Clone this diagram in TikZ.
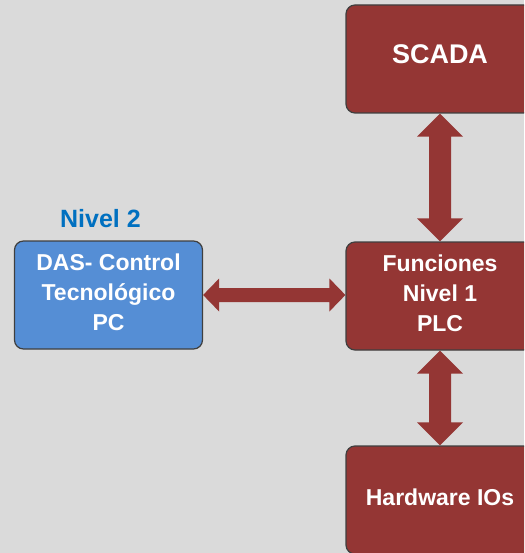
\documentclass[tikz,border=0pt]{standalone}
\usepackage{fontspec}
\setmainfont{Liberation Sans}
\usetikzlibrary{calc}
\definecolor{bg}{HTML}{DADADA}
\definecolor{boxred}{HTML}{943634}
\definecolor{boxblue}{HTML}{558ED5}
\definecolor{nivel}{HTML}{0070C0}
\definecolor{edge}{HTML}{3F3F3F}
\tikzset{
  box/.style={draw=edge, line width=1.2pt, rounded corners=9pt, minimum width=188pt,
    minimum height=108pt, inner sep=0pt, align=center, text=white,
    font=\bfseries\fontsize{23}{30}\selectfont},
  redbox/.style={box, fill=boxred},
  bluebox/.style={box, fill=boxblue},
  arr/.style={fill=boxred},
  lbl/.style={inner sep=0pt, text=nivel, font=\bfseries\fontsize{25}{30}\selectfont}
}
\newcommand\harr[2]{\fill[arr] (#1) -- ($(#1)+(16,-16.5)$) -- ($(#1)+(16,-7)$) -- ($(#2)+(-16,-7)$) -- ($(#2)+(-16,-16.5)$) -- (#2) -- ($(#2)+(-16,16.5)$) -- ($(#2)+(-16,7)$) -- ($(#1)+(16,7)$) -- ($(#1)+(16,16.5)$) -- cycle;}
\newcommand\varr[2]{\fill[arr] (#1) -- ($(#1)+(-23,23)$) -- ($(#1)+(-11,23)$) -- ($(#2)+(-11,-23)$) -- ($(#2)+(-23,-23)$) -- (#2) -- ($(#2)+(23,-23)$) -- ($(#2)+(11,-23)$) -- ($(#1)+(11,23)$) -- ($(#1)+(23,23)$) -- cycle;}
\begin{document}
\begin{tikzpicture}[x=1pt,y=-1pt]
\useasboundingbox (0,0) rectangle (524,553);
\clip (0,0) rectangle (524,553);
\fill[bg] (0,0) rectangle (524,553);
\node[redbox, font=\bfseries\fontsize{27}{30}\selectfont, text depth=10pt] (scada) at (440,59) {SCADA};
\node[redbox, text depth=6pt] (fun) at (440,296) {Funciones\\Nivel 1\\PLC};
\node[redbox, text depth=6pt] (hw) at (440,500) {Hardware IOs};
\node[bluebox, text depth=6pt] (das) at (108.5,295) {DAS- Control\\Tecnológico\\PC};
\node[lbl] (n2) at (100.5,219) {Nivel 2};
\coordinate (h1) at (das.east);
\coordinate (h2) at (das.east -| fun.west);
\harr{h1}{h2}
\varr{scada.south}{fun.north}
\varr{fun.south}{hw.north}
\end{tikzpicture}
\end{document}
